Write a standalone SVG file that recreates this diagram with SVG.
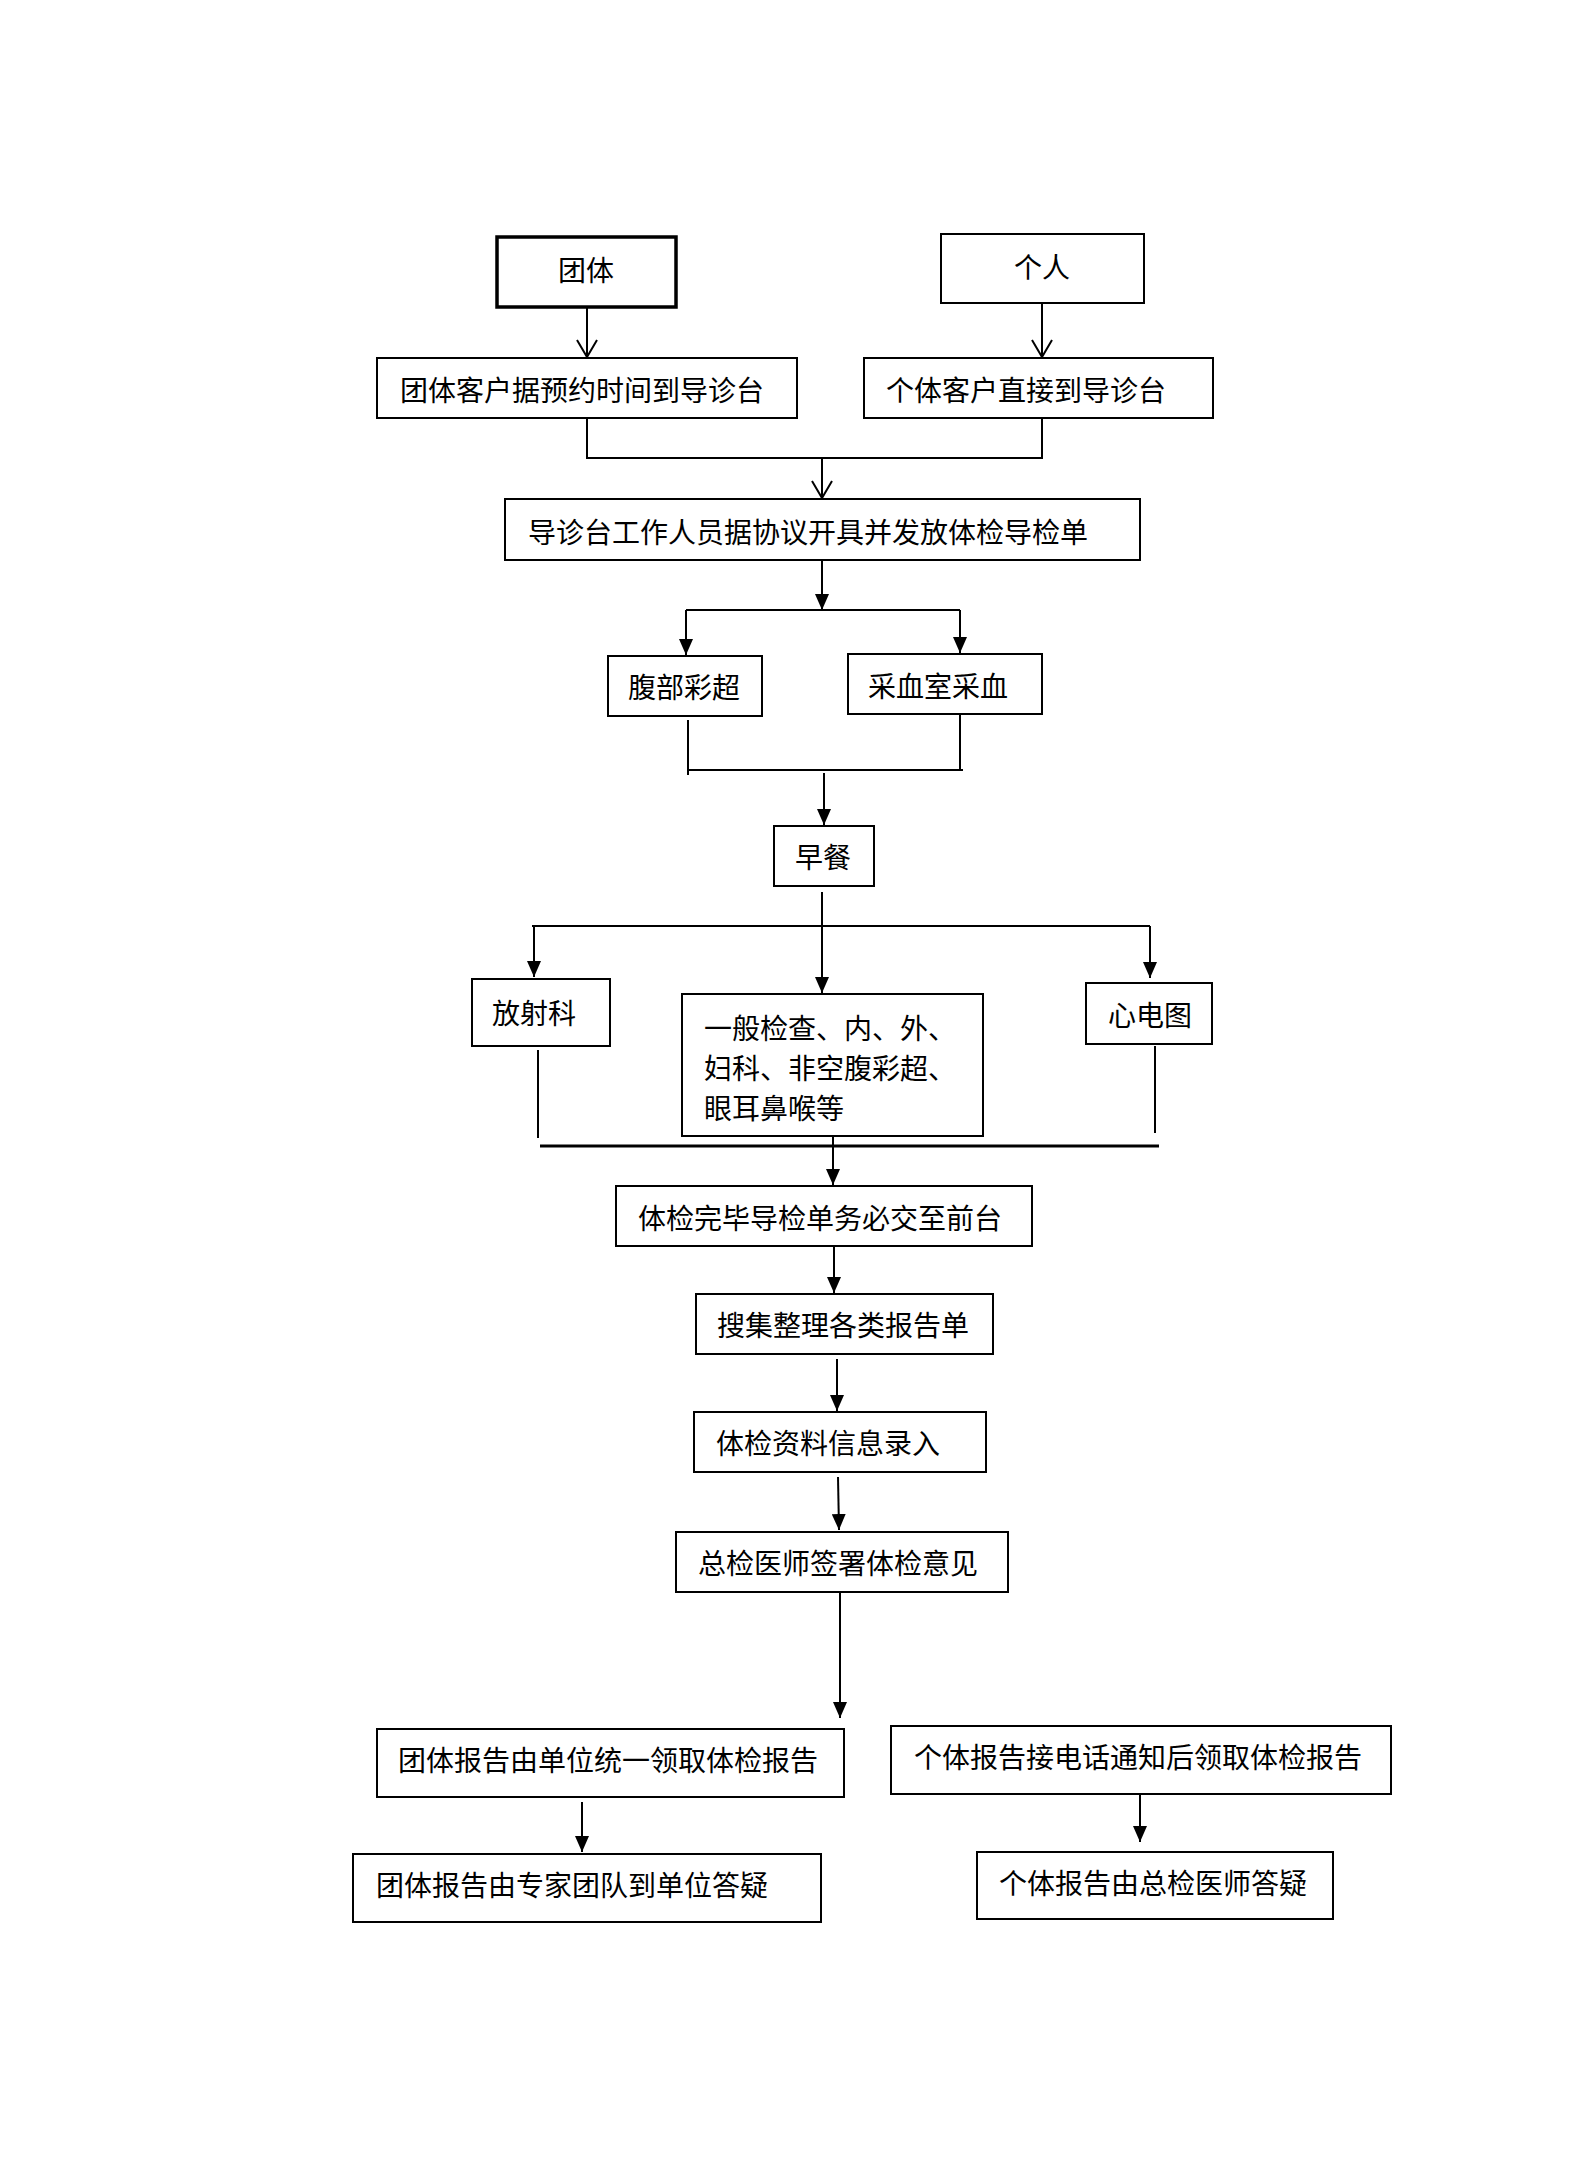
<svg xmlns="http://www.w3.org/2000/svg" width="1587" height="2157" viewBox="0 0 1587 2157">
<style>
.box{fill:#fff;stroke:#000;stroke-width:2}
.thick{stroke-width:3.5}
.t{font-family:"Noto Sans CJK SC","Noto Sans",sans-serif;font-size:28px;fill:#000}
.c{stroke:#000;stroke-width:2;fill:none}
.f{marker-end:url(#fill)}
.o{marker-end:url(#open)}
</style>
<defs>
<marker id="fill" markerUnits="userSpaceOnUse" markerWidth="17" markerHeight="14" refX="16" refY="7" orient="auto">
<path d="M0,0 L16,7 L0,14 Z" fill="#000"/>
</marker>
<marker id="open" markerUnits="userSpaceOnUse" markerWidth="20" markerHeight="22" refX="18" refY="11" orient="auto">
<path d="M1,1 L18,11 L1,21" fill="none" stroke="#000" stroke-width="2"/>
</marker>
</defs>
<rect width="1587" height="2157" fill="#fff"/>
<g id="connectors">
<line class="c o" x1="587" y1="307" x2="587" y2="357"/>
<line class="c o" x1="1042" y1="303" x2="1042" y2="357"/>
<polyline class="c" points="587,418 587,458 1042,458 1042,418"/>
<line class="c o" x1="822" y1="458" x2="822" y2="498"/>
<line class="c f" x1="822" y1="560" x2="822" y2="610"/>
<line class="c" x1="686" y1="610" x2="960" y2="610"/>
<line class="c f" x1="686" y1="610" x2="686" y2="655"/>
<line class="c f" x1="960" y1="610" x2="960" y2="653"/>
<polyline class="c" points="688,720 688,775"/>
<polyline class="c" points="960,714 960,770"/>
<line class="c" x1="688" y1="770" x2="963" y2="770"/>
<line class="c f" x1="824" y1="773" x2="824" y2="825"/>
<line class="c f" x1="822" y1="892" x2="822" y2="993"/>
<line class="c" x1="532" y1="926" x2="1150" y2="926"/>
<line class="c f" x1="534" y1="926" x2="534" y2="977"/>
<line class="c f" x1="1150" y1="926" x2="1150" y2="978"/>
<line class="c" x1="538" y1="1050" x2="538" y2="1138"/>
<line class="c" x1="1155" y1="1046" x2="1155" y2="1133"/>
<line class="c" style="stroke-width:3" x1="540" y1="1146" x2="1159" y2="1146"/>
<line class="c f" x1="833" y1="1136" x2="833" y2="1185"/>
<line class="c f" x1="834" y1="1246" x2="834" y2="1293"/>
<line class="c f" x1="837" y1="1359" x2="837" y2="1411"/>
<line class="c f" x1="838" y1="1477" x2="839" y2="1530"/>
<line class="c f" x1="840" y1="1592" x2="840" y2="1718"/>
<line class="c f" x1="582" y1="1802" x2="582" y2="1852"/>
<line class="c f" x1="1140" y1="1791" x2="1140" y2="1842"/>
</g>
<g id="n-tuanti"><rect class="box thick" x="497" y="237" width="179" height="70"/><text class="t" x="586" y="281" text-anchor="middle">团体</text></g>
<g id="n-geren"><rect class="box" x="941" y="234" width="203" height="69"/><text class="t" x="1042" y="278" text-anchor="middle">个人</text></g>
<g id="n-tuanti-kehu"><rect class="box" x="377" y="358" width="420" height="60"/><text class="t" x="400" y="401">团体客户据预约时间到导诊台</text></g>
<g id="n-geti-kehu"><rect class="box" x="864" y="358" width="349" height="60"/><text class="t" x="886" y="401">个体客户直接到导诊台</text></g>
<g id="n-daozhen"><rect class="box" x="505" y="499" width="635" height="61"/><text class="t" x="528" y="543">导诊台工作人员据协议开具并发放体检导检单</text></g>
<g id="n-fubu"><rect class="box" x="608" y="656" width="154" height="60"/><text class="t" x="628" y="698">腹部彩超</text></g>
<g id="n-caixue"><rect class="box" x="848" y="654" width="194" height="60"/><text class="t" x="868" y="697">采血室采血</text></g>
<g id="n-zaocan"><rect class="box" x="774" y="826" width="100" height="60"/><text class="t" x="795" y="868">早餐</text></g>
<g id="n-fangshe"><rect class="box" x="472" y="979" width="138" height="67"/><text class="t" x="492" y="1024">放射科</text></g>
<g id="n-yiban"><rect class="box" x="682" y="994" width="301" height="142"/><text class="t" x="704" y="1039">一般检查、内、外、</text><text class="t" x="704" y="1079">妇科、非空腹彩超、</text><text class="t" x="704" y="1119">眼耳鼻喉等</text></g>
<g id="n-xindiantu"><rect class="box" x="1086" y="983" width="126" height="61"/><text class="t" x="1108" y="1026">心电图</text></g>
<g id="n-wanbi"><rect class="box" x="616" y="1186" width="416" height="60"/><text class="t" x="638" y="1229">体检完毕导检单务必交至前台</text></g>
<g id="n-souji"><rect class="box" x="696" y="1294" width="297" height="60"/><text class="t" x="717" y="1336">搜集整理各类报告单</text></g>
<g id="n-luru"><rect class="box" x="694" y="1412" width="292" height="60"/><text class="t" x="716" y="1454">体检资料信息录入</text></g>
<g id="n-zongjian"><rect class="box" x="676" y="1532" width="332" height="60"/><text class="t" x="698" y="1574">总检医师签署体检意见</text></g>
<g id="n-tuanti-lingqu"><rect class="box" x="377" y="1729" width="467" height="68"/><text class="t" x="398" y="1771">团体报告由单位统一领取体检报告</text></g>
<g id="n-geti-lingqu"><rect class="box" x="891" y="1726" width="500" height="68"/><text class="t" x="914" y="1768">个体报告接电话通知后领取体检报告</text></g>
<g id="n-tuanti-dayi"><rect class="box" x="353" y="1854" width="468" height="68"/><text class="t" x="376" y="1896">团体报告由专家团队到单位答疑</text></g>
<g id="n-geti-dayi"><rect class="box" x="977" y="1852" width="356" height="67"/><text class="t" x="999" y="1894">个体报告由总检医师答疑</text></g>
</svg>
